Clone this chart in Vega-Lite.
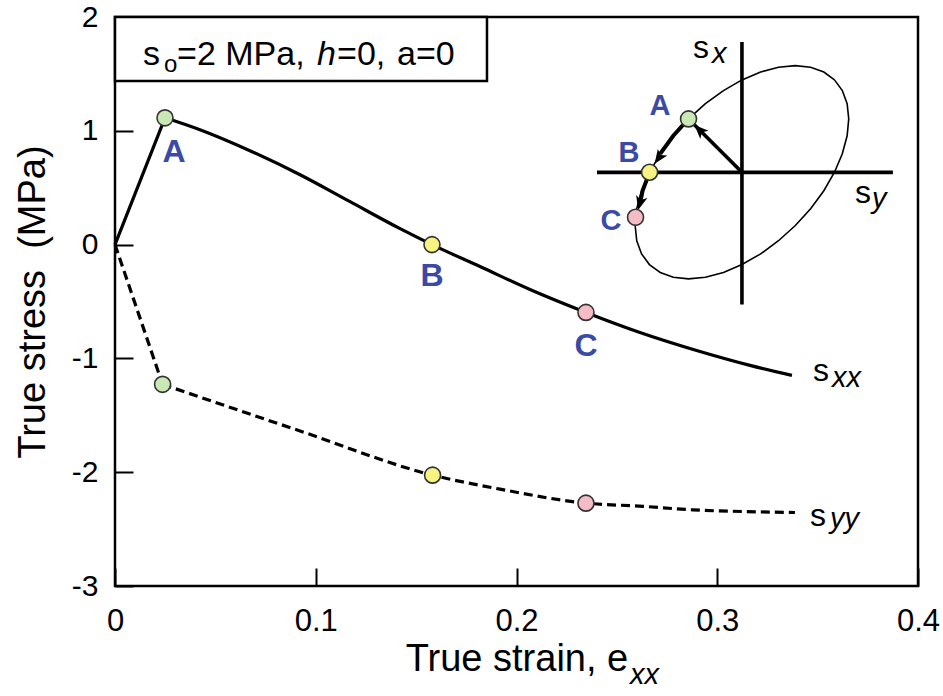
{
  "$schema": "https://vega.github.io/schema/vega-lite/v6.json",
  "width": 803,
  "height": 569,
  "autosize": {"type": "none"},
  "padding": {"left": 115, "top": 17, "right": 25, "bottom": 110},
  "background": "white",
  "config": {
    "view": {"stroke": "black", "strokeWidth": 2.5},
    "font": "Liberation Sans"
  },
  "encoding": {
    "x": {
      "field": "x", "type": "quantitative",
      "scale": {"domain": [0, 0.4], "nice": false, "zero": false},
      "axis": {
        "title": "True strain, e", "values": [0, 0.1, 0.2, 0.3, 0.4],
        "labelExpr": "'' + datum.value", "domain": false, "grid": false,
        "tickSize": -18, "tickWidth": 2, "tickColor": "black",
        "labelFont": "Liberation Sans", "labelFontSize": 31, "labelColor": "black",
        "labelPadding": 38, "labelFlush": false, "labelOverlap": false,
        "titleFont": "Liberation Sans", "titleFontSize": 38, "titleFontWeight": "normal",
        "titleColor": "black", "titlePadding": 4
      }
    },
    "y": {
      "field": "y", "type": "quantitative",
      "scale": {"domain": [-3, 2], "nice": false, "zero": false},
      "axis": {
        "title": "True stress\u00a0 (MPa)", "values": [-3, -2, -1, 0, 1, 2],
        "labelExpr": "'' + datum.value", "domain": false, "grid": false,
        "tickSize": -18, "tickWidth": 2, "tickColor": "black",
        "labelFont": "Liberation Sans", "labelFontSize": 30, "labelColor": "black",
        "labelPadding": 35, "labelFlush": false, "labelOverlap": false,
        "titleFont": "Liberation Sans", "titleFontSize": 38, "titleFontWeight": "normal",
        "titleColor": "black", "titlePadding": 19
      }
    }
  },
  "layer": [
    {
      "data": {"values": [{"x": 0, "x2": 0.1853, "y": 2, "y2": 1.4386}]},
      "mark": {"type": "rect", "fill": "white", "stroke": "black", "strokeWidth": 2.5},
      "encoding": {"x2": {"field": "x2"}, "y2": {"field": "y2"}}
    },
    {
      "data": {"values": [
        {"i": 0, "x": 0.3584, "y": 1.4474}, {"i": 1, "x": 0.3531, "y": 1.5163},
        {"i": 2, "x": 0.3465, "y": 1.5586}, {"i": 3, "x": 0.3389, "y": 1.5729},
        {"i": 4, "x": 0.3305, "y": 1.5587}, {"i": 5, "x": 0.3216, "y": 1.5163},
        {"i": 6, "x": 0.3123, "y": 1.4473}, {"i": 7, "x": 0.3031, "y": 1.3537},
        {"i": 8, "x": 0.2941, "y": 1.2382}, {"i": 9, "x": 0.2857, "y": 1.1044},
        {"i": 10, "x": 0.2781, "y": 0.9564}, {"i": 11, "x": 0.2716, "y": 0.7986},
        {"i": 12, "x": 0.2663, "y": 0.6359}, {"i": 13, "x": 0.2623, "y": 0.4732},
        {"i": 14, "x": 0.2599, "y": 0.3155}, {"i": 15, "x": 0.2591, "y": 0.1675},
        {"i": 16, "x": 0.2599, "y": 0.0337}, {"i": 17, "x": 0.2623, "y": -0.0818},
        {"i": 18, "x": 0.2662, "y": -0.1754}, {"i": 19, "x": 0.2716, "y": -0.2444},
        {"i": 20, "x": 0.2781, "y": -0.2867}, {"i": 21, "x": 0.2857, "y": -0.301},
        {"i": 22, "x": 0.2941, "y": -0.2868}, {"i": 23, "x": 0.3031, "y": -0.2444},
        {"i": 24, "x": 0.3123, "y": -0.1754}, {"i": 25, "x": 0.3216, "y": -0.0818},
        {"i": 26, "x": 0.3305, "y": 0.0338}, {"i": 27, "x": 0.3389, "y": 0.1675},
        {"i": 28, "x": 0.3465, "y": 0.3155}, {"i": 29, "x": 0.3531, "y": 0.4733},
        {"i": 30, "x": 0.3584, "y": 0.6361}, {"i": 31, "x": 0.3623, "y": 0.7988},
        {"i": 32, "x": 0.3647, "y": 0.9564}, {"i": 33, "x": 0.3655, "y": 1.1045},
        {"i": 34, "x": 0.3647, "y": 1.2383}, {"i": 35, "x": 0.3623, "y": 1.3537},
        {"i": 36, "x": 0.3584, "y": 1.4474}
      ]},
      "mark": {"type": "line", "color": "black", "strokeWidth": 1.6},
      "encoding": {"order": {"field": "i", "type": "quantitative"}}
    },
    {
      "data": {"values": [
        {"x": 0.3123, "x2": 0.3123, "y": 1.781, "y2": -0.526},
        {"x": 0.2401, "x2": 0.3875, "y": 0.635, "y2": 0.635},
        {"x": 0.3123, "x2": 0.2857, "y": 0.635, "y2": 1.1044}
      ]},
      "mark": {"type": "rule", "color": "black", "strokeWidth": 3.6},
      "encoding": {"x2": {"field": "x2"}, "y2": {"field": "y2"}}
    },
    {
      "data": {"values": [
        {"seg": "AB", "i": 0, "x": 0.2857, "y": 1.1044},
        {"seg": "AB", "i": 1, "x": 0.2781, "y": 0.9564},
        {"seg": "AB", "i": 2, "x": 0.2716, "y": 0.7986},
        {"seg": "BC", "i": 0, "x": 0.2663, "y": 0.6359},
        {"seg": "BC", "i": 1, "x": 0.2628, "y": 0.4732},
        {"seg": "BC", "i": 2, "x": 0.2616, "y": 0.37}
      ]},
      "mark": {"type": "line", "color": "black", "strokeWidth": 4},
      "encoding": {"detail": {"field": "seg"}, "order": {"field": "i", "type": "quantitative"}}
    },
    {
      "data": {"values": [{"x": 0.2914, "y": 1.0035}]},
      "mark": {"type": "point", "shape": "M0,-1L0.75,0.8L0,0.35L-0.75,0.8Z", "filled": true, "color": "black", "opacity": 1, "size": 240, "angle": 315},
      "encoding": {}
    },
    {
      "data": {"values": [{"x": 0.271, "y": 0.767}]},
      "mark": {"type": "point", "shape": "M0,-1L0.75,0.8L0,0.35L-0.75,0.8Z", "filled": true, "color": "black", "opacity": 1, "size": 240, "angle": 215},
      "encoding": {}
    },
    {
      "data": {"values": [{"x": 0.2616, "y": 0.37}]},
      "mark": {"type": "point", "shape": "M0,-1L0.75,0.8L0,0.35L-0.75,0.8Z", "filled": true, "color": "black", "opacity": 1, "size": 240, "angle": 195},
      "encoding": {}
    },
    {
      "data": {"values": [
        {"seg": 0, "x": 0, "y": 0}, {"seg": 0, "x": 0.0249, "y": 1.114},
        {"seg": 1, "x": 0.0249, "y": 1.114}, {"seg": 1, "x": 0.0423, "y": 1.009},
        {"seg": 1, "x": 0.0672, "y": 0.825}, {"seg": 1, "x": 0.0922, "y": 0.614},
        {"seg": 1, "x": 0.1171, "y": 0.377}, {"seg": 1, "x": 0.142, "y": 0.14},
        {"seg": 1, "x": 0.1579, "y": 0}, {"seg": 1, "x": 0.1818, "y": -0.193},
        {"seg": 1, "x": 0.2067, "y": -0.395}, {"seg": 1, "x": 0.2346, "y": -0.596},
        {"seg": 1, "x": 0.2615, "y": -0.772}, {"seg": 1, "x": 0.2914, "y": -0.939},
        {"seg": 1, "x": 0.3163, "y": -1.061}, {"seg": 1, "x": 0.3372, "y": -1.149}
      ]},
      "mark": {"type": "line", "color": "black", "strokeWidth": 3.2, "interpolate": "monotone"},
      "encoding": {"detail": {"field": "seg"}}
    },
    {
      "data": {"values": [
        {"seg": 0, "x": 0, "y": 0}, {"seg": 0, "x": 0.0237, "y": -1.228},
        {"seg": 1, "x": 0.0237, "y": -1.228}, {"seg": 1, "x": 0.0922, "y": -1.638},
        {"seg": 1, "x": 0.1582, "y": -2.026}, {"seg": 1, "x": 0.1918, "y": -2.149},
        {"seg": 1, "x": 0.2346, "y": -2.272}, {"seg": 1, "x": 0.263, "y": -2.3},
        {"seg": 1, "x": 0.2879, "y": -2.331}, {"seg": 1, "x": 0.3138, "y": -2.346},
        {"seg": 1, "x": 0.3387, "y": -2.354}
      ]},
      "mark": {"type": "line", "color": "black", "strokeWidth": 3.2, "strokeDash": [9, 5], "interpolate": "monotone"},
      "encoding": {"detail": {"field": "seg"}}
    },
    {
      "data": {"values": [
        {"pt": "A", "x": 0.0249, "y": 1.114}, {"pt": "B", "x": 0.1579, "y": 0},
        {"pt": "C", "x": 0.2346, "y": -0.596}, {"pt": "A", "x": 0.0237, "y": -1.228},
        {"pt": "B", "x": 0.1582, "y": -2.026}, {"pt": "C", "x": 0.2346, "y": -2.272},
        {"pt": "A", "x": 0.2857, "y": 1.1044}, {"pt": "B", "x": 0.2663, "y": 0.6359},
        {"pt": "C", "x": 0.2593, "y": 0.2399}
      ]},
      "mark": {"type": "point", "shape": "circle", "filled": true, "opacity": 1, "size": 256, "stroke": "#333333", "strokeWidth": 1.6},
      "encoding": {
        "color": {"field": "pt", "type": "nominal", "scale": {"domain": ["A", "B", "C"], "range": ["#c9e8b4", "#f6f383", "#f5bcc6"]}, "legend": null}
      }
    },
    {
      "data": {"values": [
        {"t": "A", "x": 0.0294, "y": 0.728}, {"t": "B", "x": 0.1579, "y": -0.368},
        {"t": "C", "x": 0.2346, "y": -0.982}
      ]},
      "mark": {"type": "text", "font": "Liberation Sans", "fontWeight": "bold", "fontSize": 32, "color": "#3a4aa6", "align": "center", "baseline": "alphabetic"},
      "encoding": {"text": {"field": "t"}}
    },
    {
      "data": {"values": [
        {"t": "A", "x": 0.2715, "y": 1.14}, {"t": "B", "x": 0.256, "y": 0.728},
        {"t": "C", "x": 0.2471, "y": 0.132}
      ]},
      "mark": {"type": "text", "font": "Liberation Sans", "fontWeight": "bold", "fontSize": 29, "color": "#3a4aa6", "align": "center", "baseline": "alphabetic"},
      "encoding": {"text": {"field": "t"}}
    },
    {
      "data": {"values": [
        {"t": "s", "x": 0.3477, "y": -1.202}, {"t": "s", "x": 0.3462, "y": -2.474},
        {"t": "s", "x": 0.2879, "y": 1.64}, {"t": "s", "x": 0.3686, "y": 0.368}
      ]},
      "mark": {"type": "text", "font": "Liberation Sans", "fontSize": 32, "color": "black", "align": "left", "baseline": "alphabetic"},
      "encoding": {"text": {"field": "t"}}
    },
    {
      "data": {"values": [
        {"t": "xx", "x": 0.3572, "y": -1.254}, {"t": "yy", "x": 0.3562, "y": -2.49},
        {"t": "x", "x": 0.2974, "y": 1.596}, {"t": "y", "x": 0.3771, "y": 0.325},
        {"t": "xx", "x": 0.2565, "y": -3.86}
      ]},
      "mark": {"type": "text", "font": "Liberation Sans", "fontStyle": "italic", "fontSize": 29, "color": "black", "align": "left", "baseline": "alphabetic"},
      "encoding": {"text": {"field": "t"}}
    },
    {
      "data": {"values": [
        {"t": "s", "x": 0.0139, "y": 1.579}, {"t": "=2 MPa,", "x": 0.0309, "y": 1.579},
        {"t": "=0,", "x": 0.1106, "y": 1.579}, {"t": "a=0", "x": 0.1405, "y": 1.579}
      ]},
      "mark": {"type": "text", "font": "Liberation Sans", "fontSize": 34, "color": "black", "align": "left", "baseline": "alphabetic"},
      "encoding": {"text": {"field": "t"}}
    },
    {
      "data": {"values": [{"t": "h", "x": 0.1006, "y": 1.579}]},
      "mark": {"type": "text", "font": "Liberation Sans", "fontStyle": "italic", "fontSize": 34, "color": "black", "align": "left", "baseline": "alphabetic"},
      "encoding": {"text": {"field": "t"}}
    },
    {
      "data": {"values": [{"t": "o", "x": 0.0244, "y": 1.518}]},
      "mark": {"type": "text", "font": "Liberation Sans", "fontSize": 24, "color": "black", "align": "left", "baseline": "alphabetic"},
      "encoding": {"text": {"field": "t"}}
    }
  ]
}
